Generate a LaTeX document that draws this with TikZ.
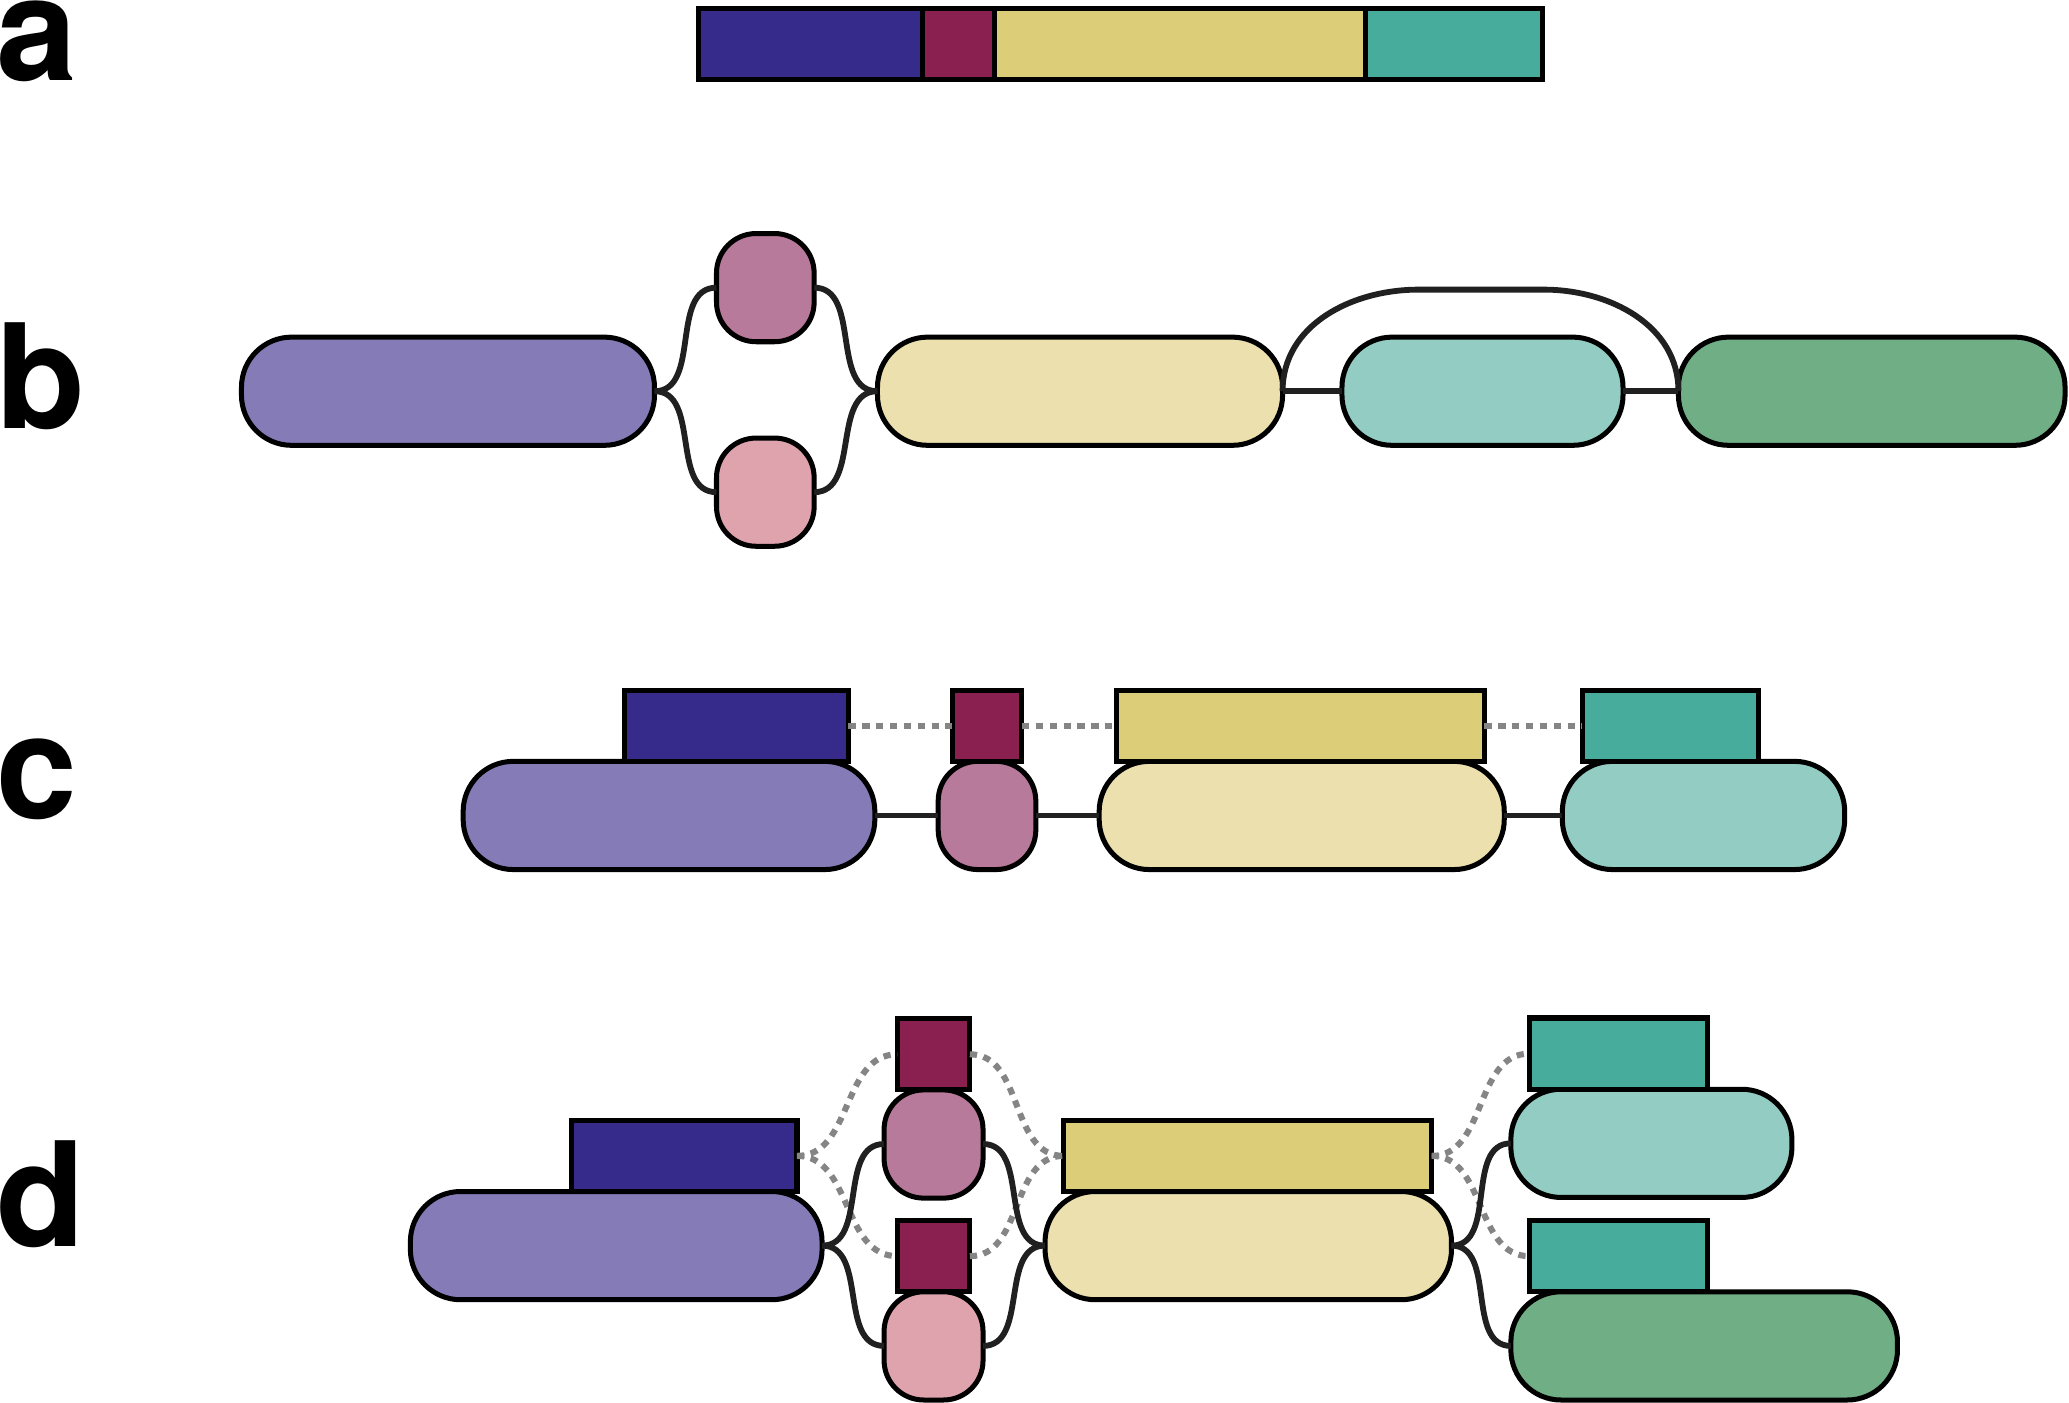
\documentclass[tikz,border=0pt]{standalone}
\usepackage{fontspec}
\setsansfont{TeX Gyre Heros}
\usetikzlibrary{positioning}
\definecolor{cDB}{HTML}{362A8B}
\definecolor{cMR}{HTML}{8A2050}
\definecolor{cYE}{HTML}{DCCD78}
\definecolor{cTE}{HTML}{47AC9B}
\definecolor{cPU}{HTML}{857CB7}
\definecolor{cMA}{HTML}{B87A9A}
\definecolor{cPK}{HTML}{DFA3AE}
\definecolor{cYL}{HTML}{EBE0AE}
\definecolor{cTL}{HTML}{92CCC2}
\definecolor{cGN}{HTML}{70AE86}
\definecolor{cLN}{HTML}{202020}
\definecolor{cDT}{HTML}{858585}
\tikzset{x=1pt,y=1pt,
  blk/.style={draw=black,line width=3.8pt,minimum height=54pt,inner sep=0pt,outer sep=0pt},
  pill/.style={draw=black,line width=3.8pt,minimum height=82pt,inner sep=0pt,outer sep=0pt,rounded corners=38pt},
  bead/.style={pill,minimum width=74pt,rounded corners=30pt},
  link/.style={draw=cLN,line width=4.4pt},
  dots/.style={draw=cDT,line width=4.6pt,dash pattern=on 5.5pt off 5pt},
  lbl/.style={anchor=base west,inner sep=0pt,font=\sffamily\bfseries\fontsize{110}{110}\selectfont}}

\begin{document}
\begin{tikzpicture}
  \useasboundingbox (0,0) rectangle (1568,1063);

  % panel labels
  \node[lbl] (la) at (-3,1002) {a};
  \node[lbl] (lb) at (-3,738) {b};
  \node[lbl] (lc) at (-3,443) {c};
  \node[lbl] (ld) at (-3,118) {d};

  % a: linear bar
  \node[blk,fill=cDB,minimum width=170pt] (a1) at (614,1029.5) {};
  \node[blk,fill=cMR,minimum width=55pt,right=0pt of a1] (a2) {};
  \node[blk,fill=cYE,minimum width=281pt,right=0pt of a2] (a3) {};
  \node[blk,fill=cTE,minimum width=134pt,right=0pt of a3] (a4) {};

  % b: graph
  \node[pill,fill=cPU,minimum width=313pt] (bp) at (339.5,766.5) {};
  \node[bead,fill=cMA] (bm) at (580,845) {};
  \node[bead,fill=cPK] (bk) at (580,690) {};
  \node[pill,fill=cYL,minimum width=307pt,right=169pt of bp] (by) {};
  \node[pill,fill=cTL,minimum width=213pt,right=45pt of by] (bt) {};
  \node[pill,fill=cGN,minimum width=293pt,right=42pt of bt] (bg) {};

  \draw[link] (bp.east) to[out=0,in=180] (bm.west);
  \draw[link] (bp.east) to[out=0,in=180] (bk.west);
  \draw[link] (bm.east) to[out=0,in=180] (by.west);
  \draw[link] (bk.east) to[out=0,in=180] (by.west);
  \draw[link] (by.east) -- (bt.west);
  \draw[link] (bt.east) -- (bg.west);
  \draw[link] (by.east) to[out=90,in=180] ++(103,77) -- ++(95,0) to[out=0,in=90] (bg.west);

  % c: one path
  \node[pill,fill=cPU,minimum width=312pt] (cp) at (507,445) {};
  \node[bead,fill=cMA,right=48pt of cp] (cm) {};
  \node[pill,fill=cYL,minimum width=307pt,right=48pt of cm] (cy) {};
  \node[pill,fill=cTL,minimum width=214pt,right=44pt of cy] (ct) {};

  \node[blk,fill=cDB,minimum width=170pt,anchor=south east] (cdb) at ([xshift=-20pt]cp.north east) {};
  \node[blk,fill=cMR,minimum width=53pt,anchor=south] (cmr) at (cm.north) {};
  \node[blk,fill=cYE,minimum width=279pt,anchor=south west] (cye) at ([xshift=13pt]cy.north west) {};
  \node[blk,fill=cTE,minimum width=134pt,anchor=south west] (cte) at ([xshift=15pt]ct.north west) {};

  \draw[link] (cp.east) -- (cm.west);
  \draw[link] (cm.east) -- (cy.west);
  \draw[link] (cy.east) -- (ct.west);
  \draw[dots] (cdb.east) -- (cmr.west);
  \draw[dots] (cmr.east) -- (cye.west);
  \draw[dots] (cye.east) -- (cte.west);

  % d: all paths
  \node[pill,fill=cPU,minimum width=312pt] (dp) at (467,119) {};
  \node[bead,fill=cMA,minimum width=75pt] (dm) at (707.5,196) {};
  \node[bead,fill=cPK,minimum width=75pt] (dk) at (707.5,43) {};
  \node[pill,fill=cYL,minimum width=308pt] (dy) at (946,119) {};
  \node[pill,fill=cTL,minimum width=213pt] (dt) at (1251.5,196.5) {};
  \node[pill,fill=cGN,minimum width=293pt] (dg) at (1291.5,43) {};

  \node[blk,fill=cDB,minimum width=171pt,anchor=south east] (ddb) at ([xshift=-19pt]dp.north east) {};
  \node[blk,fill=cMR,minimum width=55pt,anchor=south] (dmu) at (dm.north) {};
  \node[blk,fill=cMR,minimum width=55pt,anchor=south] (dml) at (dk.north) {};
  \node[blk,fill=cYE,minimum width=279pt,anchor=south west] (dye) at ([xshift=14pt]dy.north west) {};
  \node[blk,fill=cTE,minimum width=135pt,anchor=south west] (dtu) at ([xshift=14pt]dt.north west) {};
  \node[blk,fill=cTE,minimum width=135pt,anchor=south west] (dtl) at ([xshift=14pt]dg.north west) {};

  \draw[dots] (ddb.east) to[out=0,in=180] (dmu.west);
  \draw[dots] (ddb.east) to[out=0,in=180] (dml.west);
  \draw[dots] (dmu.east) to[out=0,in=180] (dye.west);
  \draw[dots] (dml.east) to[out=0,in=180] (dye.west);
  \draw[dots] (dye.east) to[out=0,in=180] (dtu.west);
  \draw[dots] (dye.east) to[out=0,in=180] (dtl.west);

  \draw[link] (dp.east) to[out=0,in=180] (dm.west);
  \draw[link] (dp.east) to[out=0,in=180] (dk.west);
  \draw[link] (dm.east) to[out=0,in=180] (dy.west);
  \draw[link] (dk.east) to[out=0,in=180] (dy.west);
  \draw[link] (dy.east) to[out=0,in=180] (dt.west);
  \draw[link] (dy.east) to[out=0,in=180] (dg.west);
\end{tikzpicture}
\end{document}
